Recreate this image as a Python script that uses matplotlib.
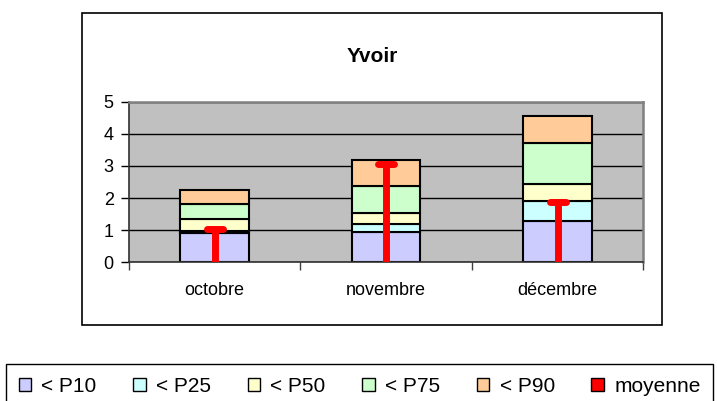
import matplotlib
matplotlib.use('Agg')
import matplotlib.pyplot as plt
from matplotlib.patches import Rectangle, Patch
from matplotlib.markers import MarkerStyle
import numpy as np

plt.rcParams['font.family'] = ['Liberation Sans', 'DejaVu Sans']

months = ['octobre', 'novembre', 'décembre']
p10 = [0.92, 0.93, 1.30]
p25 = [0.99, 1.20, 1.91]
p50 = [1.35, 1.54, 2.43]
p75 = [1.81, 2.37, 3.71]
p90 = [2.25, 3.17, 4.56]
moyenne = [1.05, 3.07, 1.88]
labels = ['< P10', '< P25', '< P50', '< P75', '< P90', 'moyenne']
colors = ['#CCCCFF', '#CCFFFF', '#FFFFCC', '#CCFFCC', '#FFCC99', '#FF0000']
title = 'Yvoir'
yticks = [0, 1, 2, 3, 4, 5]

fig = plt.figure(figsize=(7.17, 4.01), dpi=100)
W, H = 717, 401
ax = fig.add_axes([129 / W, 1 - 262.3 / H, (643.3 - 129) / W, (262.3 - 101.7) / H])
ax.set_facecolor('#C0C0C0')

x = np.arange(len(months))
bottom = np.zeros(len(months))
for lev, c in zip([p10, p25, p50, p75, p90], colors[:5]):
    top = np.array(lev)
    ax.bar(x, top - bottom, 0.4, bottom=bottom, color=c, edgecolor='black',
           linewidth=1.5, zorder=2)
    bottom = top

ax.vlines(x, 0, moyenne, colors=colors[5], linewidth=5, zorder=3)
ax.plot(x, moyenne, linestyle='none', marker=MarkerStyle('_', capstyle='round'),
        markersize=12, markeredgewidth=5, color=colors[5], zorder=4)

ax.set_xlim(-0.5, len(months) - 0.5)
ax.set_ylim(0, 5)
ax.set_yticks(yticks)
ax.yaxis.grid(True, color='black', linewidth=1)
ax.set_axisbelow(True)

ax.set_xticks(np.arange(len(months) + 1) - 0.5)
ax.set_xticklabels([])
ax.set_xticks(x, minor=True)
ax.set_xticklabels(months, minor=True)
ax.tick_params(axis='x', which='major', length=6, width=1, color='#404040')
ax.tick_params(axis='x', which='minor', length=0, pad=14, labelsize=13)
ax.tick_params(axis='y', length=6, width=1, pad=5, labelsize=13)

for s in ['left', 'bottom']:
    ax.spines[s].set_color('#303030')
    ax.spines[s].set_linewidth(1.2)
for s in ['top', 'right']:
    ax.spines[s].set_color('#808080')
    ax.spines[s].set_linewidth(1.8)

fig.patches.append(Rectangle((82.3 / W, 1 - 325.3 / H), (661.7 - 82.3) / W, (325.3 - 13) / H,
                             transform=fig.transFigure, fill=False, edgecolor='black',
                             linewidth=1.2))

fig.text(372 / W, 1 - 57 / H, title, ha='center', va='center', fontsize=15,
         fontweight='bold')

handles = [Patch(facecolor=c, edgecolor='black', linewidth=1) for c in colors]
leg = fig.legend(handles, labels, ncol=6, loc='upper left',
                 bbox_to_anchor=(6 / W, 1 - 364 / H), borderaxespad=0,
                 frameon=True, fancybox=False, edgecolor='black', framealpha=1,
                 fontsize=15, handlelength=0.6, handleheight=0.6,
                 handletextpad=0.5, columnspacing=1.75, borderpad=0.6)
leg.get_frame().set_linewidth(1.0)

fig.savefig('out.png', dpi=100)
